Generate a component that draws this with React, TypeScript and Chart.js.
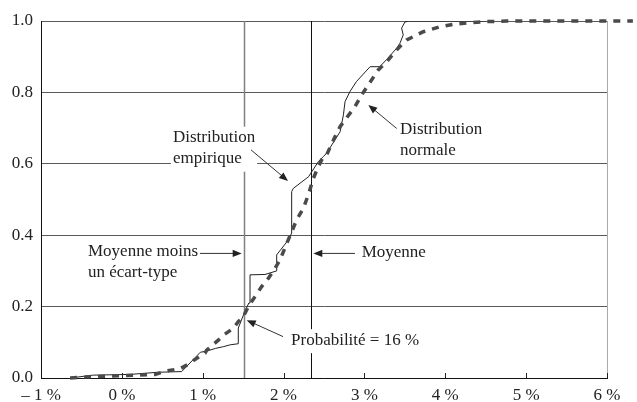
import React, { useEffect, useRef } from "react";
import { Chart, registerables } from "chart.js";

Chart.register(...registerables);

// Empirical distribution (solid thin line)
const empX = [-0.64, -0.36, 0.10, 0.44, 0.74, 0.97, 1.06, 1.16, 1.26, 1.34, 1.44, 1.44, 1.51, 1.57, 1.585, 1.585, 1.77, 1.915, 1.915, 2.06, 2.10, 2.10, 2.12, 2.31, 2.35, 2.43, 2.49, 2.53, 2.70, 2.74, 2.76, 2.82, 2.90, 3.07, 3.19, 3.27, 3.40, 3.44, 3.48, 3.46, 3.50, 3.55, 4.5];
const empY = [0.0, 0.008, 0.010, 0.016, 0.018, 0.072, 0.076, 0.083, 0.088, 0.093, 0.096, 0.14, 0.18, 0.21, 0.21, 0.289, 0.29, 0.30, 0.345, 0.387, 0.406, 0.522, 0.531, 0.564, 0.578, 0.606, 0.620, 0.629, 0.690, 0.737, 0.774, 0.802, 0.830, 0.872, 0.872, 0.891, 0.924, 0.938, 0.961, 0.980, 0.997, 1.0, 1.0];

// Normal distribution (thick dashed line)
const normX = [-0.64, -0.357, 0.039, 0.41, 0.555, 0.719, 0.802, 0.926, 1.028, 1.049, 1.193, 1.255, 1.378, 1.44, 1.502, 1.564, 1.647, 1.729, 1.811, 1.894, 1.956, 2.058, 2.162, 2.244, 2.306, 2.368, 2.429, 2.491, 2.533, 2.636, 2.698, 2.883, 2.966, 3.048, 3.171, 3.275, 3.419, 3.523, 3.728, 3.934, 4.141, 4.47, 4.76, 6.32];
const normY = [0.0, 0.004, 0.007, 0.010, 0.020, 0.026, 0.036, 0.055, 0.069, 0.078, 0.106, 0.120, 0.139, 0.158, 0.172, 0.200, 0.228, 0.256, 0.279, 0.307, 0.331, 0.387, 0.443, 0.475, 0.513, 0.559, 0.592, 0.620, 0.625, 0.676, 0.704, 0.760, 0.793, 0.821, 0.863, 0.886, 0.924, 0.947, 0.970, 0.984, 0.992, 0.998, 1.0, 1.0];

const xTickValues = [-1, 0, 1, 2, 3, 4, 5, 6];
const xTickLabels = ["– 1 %", "0 %", "1 %", "2 %", "3 %", "4 %", "5 %", "6 %"];
const yTickValues = [0, 0.2, 0.4, 0.6, 0.8, 1.0];
const yTickLabels = ["0.0", "0.2", "0.4", "0.6", "0.8", "1.0"];

const meanValue = 2.34;
const meanMinusSd = 1.51;

// Annotation texts and anchors (data units)
const annotTexts = [
  ["Distribution", "empirique"],
  ["Distribution", "normale"],
  ["Moyenne moins", "un écart-type"],
  ["Moyenne"],
  ["Probabilité = 16 %"],
];
const annotTextX = [0.632, 3.44, -0.419, 2.966, 2.092];
const annotTextY = [0.673, 0.697, 0.354, 0.351, 0.106];
const annotBox = [true, false, false, false, true];
const arrowFrom = [[1.597, 0.639], [3.399, 0.699], [0.966, 0.349], [2.883, 0.349], [1.993, 0.116]];
const arrowTo = [[2.055, 0.552], [3.048, 0.765], [1.482, 0.349], [2.368, 0.349], [1.544, 0.162]];

const FONT = "'Liberation Serif', 'Times New Roman', serif";

function drawArrow(ctx: CanvasRenderingContext2D, x1: number, y1: number, x2: number, y2: number) {
  const ang = Math.atan2(y2 - y1, x2 - x1);
  const len = 9;
  const hw = 3.6;
  ctx.save();
  ctx.strokeStyle = "#333";
  ctx.fillStyle = "#222";
  ctx.lineWidth = 1;
  ctx.beginPath();
  ctx.moveTo(x1, y1);
  ctx.lineTo(x2 - Math.cos(ang) * len * 0.8, y2 - Math.sin(ang) * len * 0.8);
  ctx.stroke();
  ctx.beginPath();
  ctx.moveTo(x2, y2);
  ctx.lineTo(x2 - Math.cos(ang) * len - Math.sin(ang) * hw, y2 - Math.sin(ang) * len + Math.cos(ang) * hw);
  ctx.lineTo(x2 - Math.cos(ang) * len + Math.sin(ang) * hw, y2 - Math.sin(ang) * len - Math.cos(ang) * hw);
  ctx.closePath();
  ctx.fill();
  ctx.restore();
}

const decorPlugin = {
  id: "decor",
  beforeDatasetsDraw(chart: any) {
    const { ctx, chartArea, scales } = chart;
    const xs = scales.x;
    ctx.save();
    // right border
    ctx.strokeStyle = "#aaa";
    ctx.lineWidth = 1;
    ctx.beginPath();
    ctx.moveTo(Math.round(chartArea.right) + 0.5, chartArea.top);
    ctx.lineTo(Math.round(chartArea.right) + 0.5, chartArea.bottom);
    ctx.stroke();
    // vertical reference lines
    const xa = Math.round(xs.getPixelForValue(meanMinusSd)) + 0.5;
    ctx.strokeStyle = "#808080";
    ctx.lineWidth = 1.5;
    ctx.beginPath();
    ctx.moveTo(xa, chartArea.top);
    ctx.lineTo(xa, chartArea.bottom);
    ctx.stroke();
    const xb = Math.round(xs.getPixelForValue(meanValue)) + 0.5;
    ctx.strokeStyle = "#111";
    ctx.lineWidth = 1;
    ctx.beginPath();
    ctx.moveTo(xb, chartArea.top);
    ctx.lineTo(xb, chartArea.bottom);
    ctx.stroke();
    // inner tick marks on x axis
    ctx.strokeStyle = "#222";
    ctx.lineWidth = 1;
    xTickValues.forEach((v, i) => {
      if (i === 0) return;
      const px = Math.round(xs.getPixelForValue(v)) + 0.5;
      ctx.beginPath();
      ctx.moveTo(px, chartArea.bottom);
      ctx.lineTo(px, chartArea.bottom - 5);
      ctx.stroke();
    });
    ctx.restore();
  },
  afterDraw(chart: any) {
    const { ctx, scales } = chart;
    const xs = scales.x;
    const ys = scales.y;
    ctx.save();
    ctx.font = `17px ${FONT}`;
    ctx.textBaseline = "middle";
    ctx.textAlign = "left";
    const lineH = 21;
    annotTexts.forEach((lines, i) => {
      const tx = xs.getPixelForValue(annotTextX[i]);
      const ty = ys.getPixelForValue(annotTextY[i]);
      if (annotBox[i]) {
        let w = 0;
        lines.forEach((l) => (w = Math.max(w, ctx.measureText(l).width)));
        ctx.fillStyle = "#fff";
        ctx.fillRect(tx - 2, ty - 11, w + 4, lineH * (lines.length - 1) + 24);
      }
      ctx.fillStyle = "#222";
      lines.forEach((l, j) => ctx.fillText(l, tx, ty + j * lineH));
      drawArrow(
        ctx,
        xs.getPixelForValue(arrowFrom[i][0]),
        ys.getPixelForValue(arrowFrom[i][1]),
        xs.getPixelForValue(arrowTo[i][0]),
        ys.getPixelForValue(arrowTo[i][1])
      );
    });
    ctx.restore();
  },
};

export default function App() {
  const ref = useRef<HTMLCanvasElement | null>(null);
  useEffect(() => {
    if (!ref.current) return;
    const chart = new Chart(ref.current, {
      type: "scatter",
      data: {
        datasets: [
          {
            label: "Distribution normale",
            data: normX.map((x, i) => ({ x, y: normY[i] })),
            showLine: true,
            borderColor: "#4a4a4a",
            borderWidth: 3.5,
            borderDash: [7, 7],
            pointRadius: 0,
            clip: false as any,
            order: 0,
          },
          {
            label: "Distribution empirique",
            data: empX.map((x, i) => ({ x, y: empY[i] })),
            showLine: true,
            borderColor: "#222",
            borderWidth: 1,
            pointRadius: 0,
            order: 1,
          },
        ],
      },
      options: {
        animation: false,
        responsive: true,
        maintainAspectRatio: false,
        layout: { padding: { top: 21, right: 30, left: 0, bottom: 0 } },
        plugins: { legend: { display: false }, tooltip: { enabled: false } },
        scales: {
          x: {
            type: "linear",
            min: -1,
            max: 6,
            afterFit: (s: any) => {
              s.height = 24;
            },
            afterBuildTicks: (s: any) => {
              s.ticks = xTickValues.map((v) => ({ value: v }));
            },
            ticks: {
              autoSkip: false,
              maxRotation: 0,
              padding: 7,
              color: "#222",
              font: { family: FONT, size: 17 },
              callback: (v: any) => {
                const i = xTickValues.indexOf(Number(v));
                return i >= 0 ? xTickLabels[i] : "";
              },
            },
            grid: { drawOnChartArea: false, drawTicks: false },
            border: { display: true, color: "#111", width: 1 },
          },
          y: {
            type: "linear",
            min: 0,
            max: 1,
            afterFit: (s: any) => {
              s.width = 41;
            },
            afterBuildTicks: (s: any) => {
              s.ticks = yTickValues.map((v) => ({ value: v }));
            },
            ticks: {
              padding: 8,
              color: "#222",
              font: { family: FONT, size: 17 },
              callback: (v: any) => {
                const i = yTickValues.findIndex((t) => Math.abs(t - Number(v)) < 1e-6);
                return i >= 0 ? yTickLabels[i] : "";
              },
            },
            grid: { color: "#5a5a5a", lineWidth: 1, drawTicks: false },
            border: { display: true, color: "#111", width: 1 },
          },
        },
      },
      plugins: [decorPlugin],
    });
    return () => chart.destroy();
  }, []);
  return (
    <div style={{ position: "fixed", left: 0, top: 0, width: 637, height: 402, background: "#fff" }}>
      <canvas ref={ref} />
    </div>
  );
}
